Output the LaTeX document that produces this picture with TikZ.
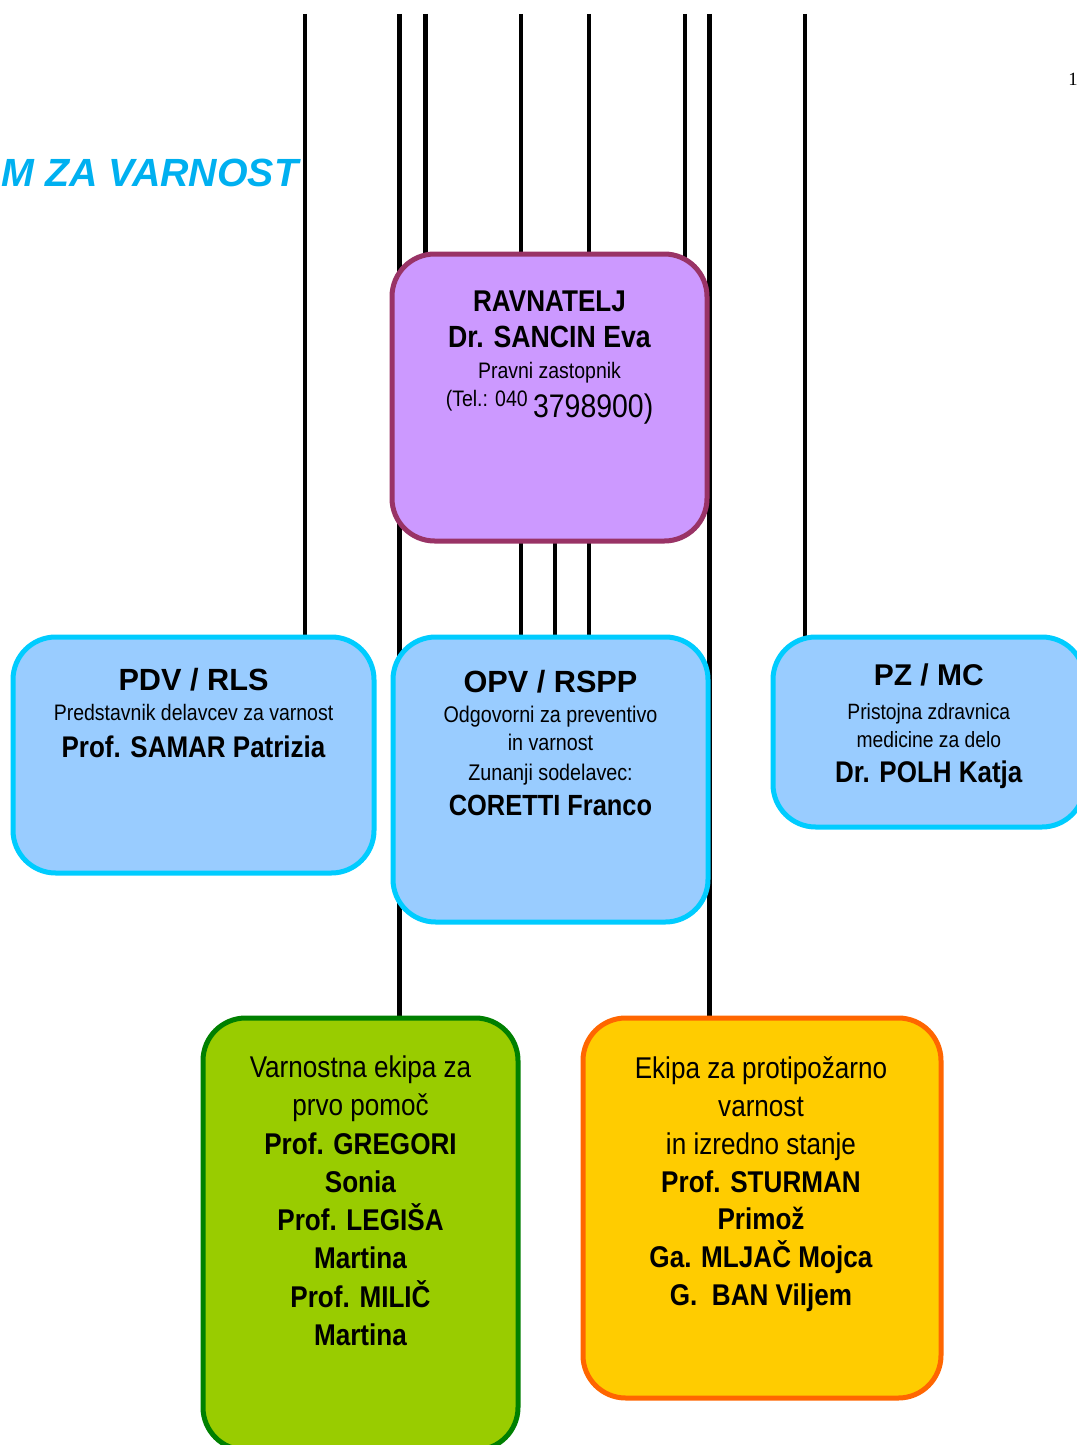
\documentclass[tikz,border=0pt]{standalone}
\usepackage{fontspec}
\setmainfont{Liberation Sans}
\newfontfamily\narrowfont[FakeStretch=0.87]{Liberation Sans}
\newfontfamily\pagefont{Liberation Serif}
\usetikzlibrary{backgrounds}

\definecolor{ravnfill}{HTML}{CC99FF}
\definecolor{ravnline}{HTML}{993366}
\definecolor{bluefill}{HTML}{99CCFF}
\definecolor{blueline}{HTML}{00CCFF}
\definecolor{greenfill}{HTML}{99CC00}
\definecolor{greenline}{HTML}{008000}
\definecolor{orangefill}{HTML}{FFCC00}
\definecolor{orangeline}{HTML}{FF6600}
\definecolor{titlecol}{HTML}{00B0F0}

\newcommand{\fs}[1]{\fontsize{#1}{0pt}\selectfont}
\newcommand{\tightlines}{\lineskiplimit=-200pt\relax\lineskip=0pt\relax}

\tikzset{
  box/.style={draw, rounded corners=32pt, line width=3.75pt},
  ravnbox/.style={box, fill=ravnfill, draw=ravnline},
  bluebox/.style={box, fill=bluefill, draw=blueline},
  greenbox/.style={box, fill=greenfill, draw=greenline},
  orangebox/.style={box, fill=orangefill, draw=orangeline},
  wire/.style={line width=3.6pt},
  txt/.style={align=center, inner sep=0pt, anchor=north,
    font=\narrowfont\fs{22.5pt}\tightlines}
}

\begin{document}
\begin{tikzpicture}[x=0.75pt,y=-0.75pt]

\useasboundingbox (0,0) rectangle (1077,1445);
\clip (0,0) rectangle (1077,1445);

% title
\node[anchor=base east, inner sep=0pt, text=titlecol,
  font=\bfseries\itshape\fs{29.5pt}] (title) at (298.5,186) {AM ZA VARNOST};
\node[anchor=base west, inner sep=0pt, font=\pagefont\fs{14pt}] (page) at (1068,85) {1};

% boxes
\node[ravnbox, minimum width=236.25pt, minimum height=215.25pt] (ravn) at (549.5,397.5) {};
\node[bluebox, minimum width=270.75pt, minimum height=177pt] (pdv) at (193.5,755) {};
\node[bluebox, minimum width=236.25pt, minimum height=213.75pt] (opv) at (550.5,779.5) {};
\node[bluebox, minimum width=233.7pt, minimum height=142.5pt] (pz) at (928.8,732) {};
\node[greenbox, minimum width=236.25pt, minimum height=324pt] (green) at (360.5,1234) {};
\node[orangebox, minimum width=268.5pt, minimum height=285pt] (orange) at (762,1208) {};

% texts
\node[txt] (ravntxt) at (549.5,290.2) {%
  {\bfseries RAVNATELJ}\\[27.45pt]
  {\bfseries\fs{23pt}Dr. SANCIN Eva}\\[23.25pt]
  {\fs{16.8pt}Pravni zastopnik}\\[20.5pt]
  {\fs{16.8pt}(Tel.: 040 }\raisebox{-8.8pt}{\fs{24.5pt}3798900)}};

\node[txt] (pdvtxt) at (193.5,668) {%
  {\normalfont\bfseries\fs{23pt}PDV / RLS}\\[22.5pt]
  {\fs{16.8pt}Predstavnik delavcev za varnost}\\[27.5pt]
  {\bfseries\fs{22.4pt}Prof. SAMAR Patrizia}};

\node[txt] (opvtxt) at (550.5,669.7) {%
  {\normalfont\bfseries\fs{23pt}OPV / RSPP}\\[22.5pt]
  {\fs{17pt}Odgovorni za preventivo}\\[21.2pt]
  {\fs{17pt}in varnost}\\[22.5pt]
  {\fs{17pt}Zunanji sodelavec:}\\[26.25pt]
  {\bfseries\fs{21.9pt}CORETTI Franco}};

\node[txt] (pztxt) at (928.8,663.5) {%
  {\normalfont\bfseries\fs{22.5pt}PZ / MC}\\[25.5pt]
  {\fs{16.6pt}Pristojna zdravnica}\\[20.8pt]
  {\fs{16.6pt}medicine za delo}\\[26.25pt]
  {\bfseries\fs{22.4pt}Dr. POLH Katja}};

\node[txt] (greentxt) at (360.5,1055.5) {%
  Varnostna ekipa za\\[28.7pt]
  prvo pomoč\\[28.7pt]
  \textbf{Prof. GREGORI}\\[28.7pt]
  \textbf{Sonia}\\[28.7pt]
  \textbf{Prof. LEGIŠA}\\[28.7pt]
  \textbf{Martina}\\[28.7pt]
  \textbf{Prof. MILIČ}\\[28.7pt]
  \textbf{Martina}};

\node[txt] (orangetxt) at (761,1056.8) {%
  Ekipa za protipožarno\\[28.3pt]
  varnost\\[28.3pt]
  in izredno stanje\\[28.3pt]
  \textbf{Prof. STURMAN}\\[28.3pt]
  \textbf{Primož}\\[28.3pt]
  \textbf{Ga. MLJAČ Mojca}\\[28.3pt]
  \textbf{G.\ \ BAN Viljem}};

% lines
\coordinate (t1) at (305,14);
\coordinate (t2) at (399.5,14);
\coordinate (t3) at (425.5,14);
\coordinate (t4) at (521,14);
\coordinate (t5) at (555,14);
\coordinate (t6) at (589,14);
\coordinate (t7) at (685,14);
\coordinate (t8) at (709.5,14);
\coordinate (t9) at (805,14);

\begin{pgfonlayer}{background}
\draw[wire] (t1) -- (t1 |- pdv.center);
\draw[wire] (t2) -- (t2 |- green.center);
\draw[wire] (t3) -- (t3 |- ravn.center);
\draw[wire] (t4) -- (t4 |- opv.center);
\draw[wire] (t5 |- ravn.center) -- (t5 |- opv.center);
\draw[wire] (t6) -- (t6 |- opv.center);
\draw[wire] (t7) -- (t7 |- ravn.center);
\draw[wire] (t8) -- (t8 |- orange.center);
\draw[wire] (t9) -- (t9 |- pz.center);
\end{pgfonlayer}

\end{tikzpicture}
\end{document}
